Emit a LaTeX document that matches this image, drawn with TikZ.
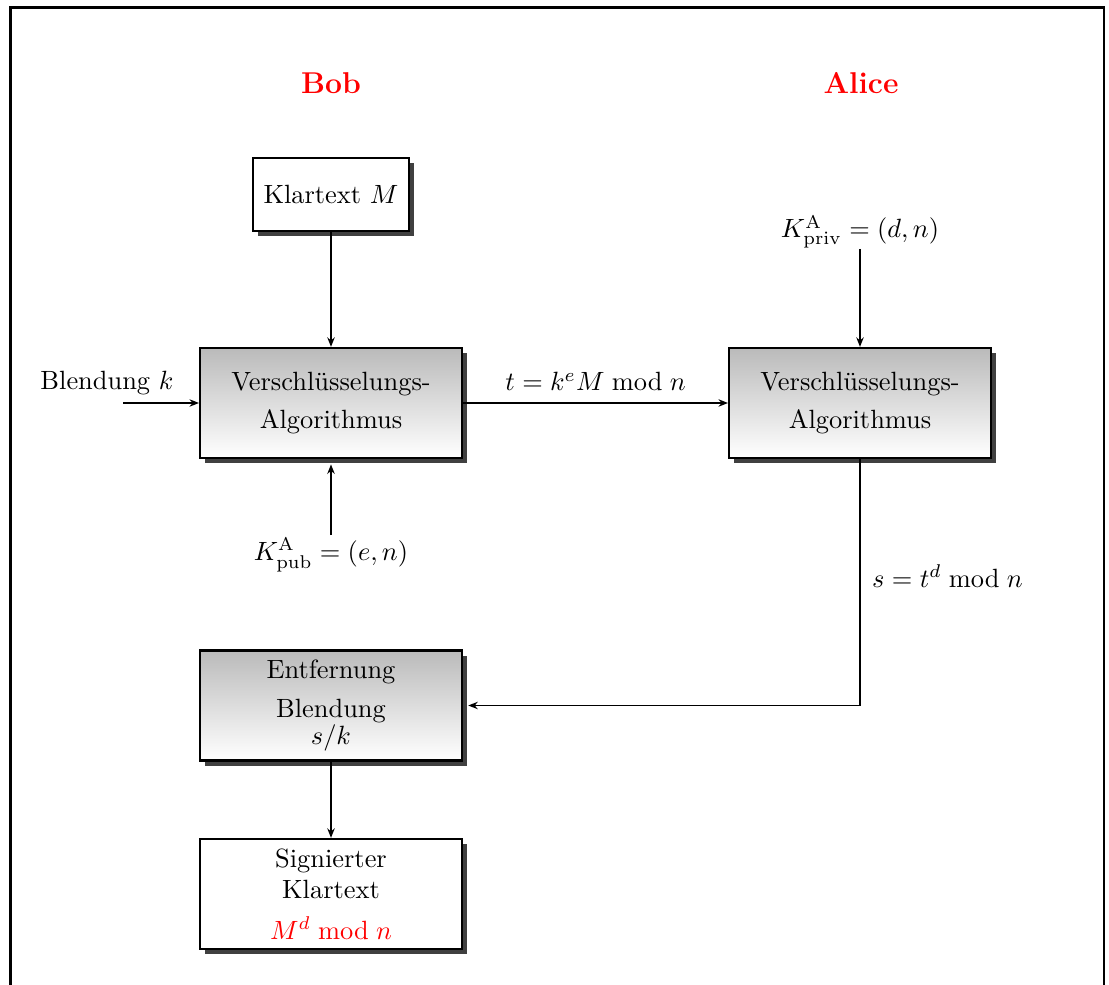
\documentclass[tikz,border=0pt]{standalone}
\usetikzlibrary{shadows,arrows.meta}
\begin{document}
\begin{tikzpicture}[x=0.3788pt,y=-0.3788pt,
  font=\fontsize{10}{12}\selectfont,
  party/.style={text=red,font=\fontsize{11.4}{14}\selectfont\bfseries},
  boxbase/.style={draw,line width=0.8pt,align=center,
    drop shadow={shadow xshift=2pt,shadow yshift=-2pt,fill=black!75,opacity=1}},
  plainbox/.style={boxbase,fill=white},
  algobox/.style={boxbase,top color=black!27,bottom color=white,
    minimum width=99.2pt,minimum height=41.7pt},
  conn/.style={line width=0.6pt,-{Stealth[length=3.6pt,width=2.8pt]}},
  shadowend/.style={shorten >=2pt}]
\clip (0,0) rectangle (1109,985);
% outer frame
\draw[line width=0.9pt] (10.5,7.5) rectangle (1104,1010);

% parties
\node[party] (bob) at (331,83) {Bob};
\node[party] (alice) at (861,83) {Alice};

% Bob's side
\node[plainbox,minimum width=59.1pt,minimum height=27.7pt] (klar) at (331,194.5) {Klartext $M$};
\node[algobox] (enc1) at (331,403) {Verschl\"usselungs-\\[2.4pt]Algorithmus};
\node (blend) at (107,383) {Blendung $k$};
\coordinate (blin) at (123,403);
\node[inner sep=1pt] (kpub) at (331,555) {$K_{\mathrm{pub}}^{\mathrm{A}}=(e,n)$};

% Alice's side
\node[inner sep=0pt] (kpriv) at (860,232) {$K_{\mathrm{priv}}^{\mathrm{A}}=(d,n)$};
\node[algobox] (enc2) at (860,403) {Verschl\"usselungs-\\[2.4pt]Algorithmus};
\coordinate (turn) at (860,705.5);

% unblinding and result
\node[algobox] (unbl) at (331,705.5) {Entfernung\\[2.8pt]Blendung\\[-1.6pt]$s/k$};
\node[plainbox,minimum width=99.2pt,minimum height=41.7pt] (sig) at (331,894)
  {Signierter\\Klartext\\[3.4pt]\textcolor{red}{$M^d \bmod n$}};

% connectors
\draw[conn] (klar.south) -- (enc1.north);
\draw[conn] (blin) -- (enc1.west);
\draw[conn,shadowend] (kpub.north) -- (enc1.south);
\draw[conn] (enc1.east) -- node[above=1pt] {$t=k^eM \bmod n$} (enc2.west);
\draw[conn] (kpriv.south) -- (enc2.north);
\draw[conn,shadowend] (enc2.south) -- node[pos=0.475,right=1pt] {$s=t^d \bmod n$} (turn) -- (unbl.east);
\draw[conn] (unbl.south) -- (sig.north);
\end{tikzpicture}
\end{document}
